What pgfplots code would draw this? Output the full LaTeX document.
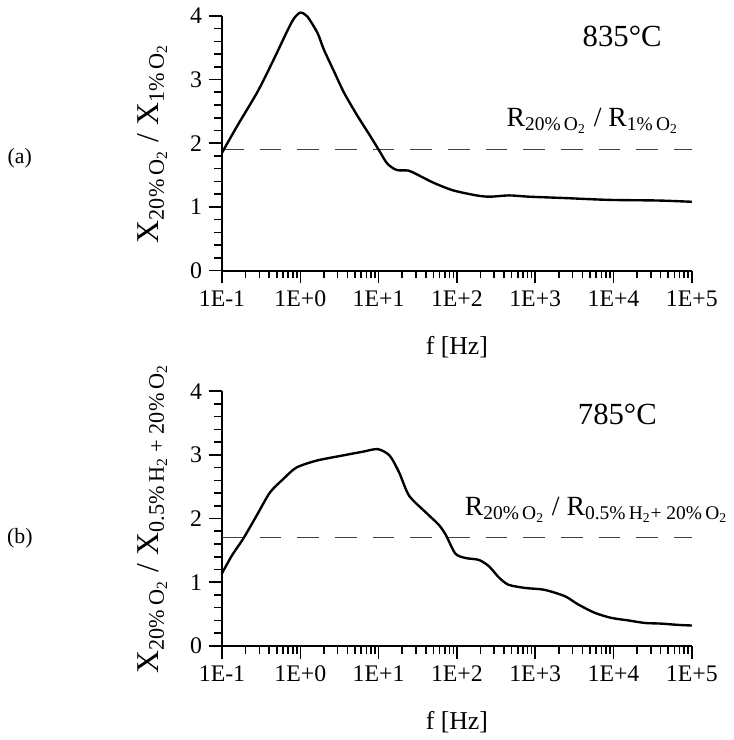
\documentclass[border=0pt]{standalone}
\usepackage{fontspec}
\setmainfont{Liberation Serif}
\usepackage{pgfplots}
\pgfplotsset{compat=1.18}

\begin{document}
\begin{tikzpicture}
\path (0,0) rectangle (370pt,370pt);

\node[font=\fontsize{11}{13}\selectfont] at (10pt,290pt) {(a)};
\node[font=\fontsize{11}{13}\selectfont] at (10pt,98.5pt) {(b)};

% (a) 835 C
\begin{axis}[
  at={(112pt,233.5pt)}, anchor=south west,
  scale only axis, width=237pt, height=128.5pt,
  xmode=log, xmin=0.1, xmax=1e5, ymin=0, ymax=4,
  axis lines=left,
  axis line style={-, line width=1pt},
  tick align=outside,
  every tick/.append style={black, line width=0.8pt},
  major tick length=6.5pt, minor tick length=4pt,
  xtick={0.1,1,10,100,1000,10000,100000},
  xticklabels={1E-1,1E+0,1E+1,1E+2,1E+3,1E+4,1E+5},
  minor xtick={0.2,0.3,0.4,0.5,0.6,0.7,0.8,0.9,2,3,4,5,6,7,8,9,
    20,30,40,50,60,70,80,90,200,300,400,500,600,700,800,900,
    2000,3000,4000,5000,6000,7000,8000,9000,
    20000,30000,40000,50000,60000,70000,80000,90000},
  ytick={0,1,2,3,4}, yticklabels={0,1,2,3,4}, minor y tick num=4,
  tick label style={font=\fontsize{12}{14}\selectfont},
  xlabel={f [Hz]},
  xlabel style={font=\fontsize{13}{15}\selectfont, at={(axis description cs:0.5,-0.33)}, anchor=base},
  ylabel={X\textsubscript{20\%\,O\textsubscript{2}} / X\textsubscript{1\%\,O\textsubscript{2}}},
  ylabel style={font=\fontsize{16}{19}\selectfont, at={(axis description cs:-0.148,0.5)}, anchor=center},
  clip=false,
]
\addplot[black!75, line width=0.7pt, dash pattern=on 11pt off 8pt] coordinates {(0.1,1.9) (100000,1.9)};
\addplot[black, line width=1.2pt, smooth, tension=0.45] coordinates {
  (0.1,1.85) (0.158,2.28) (0.288,2.82) (0.468,3.34) (0.692,3.78) (0.832,3.96)
  (1.0,4.05) (1.23,3.99) (1.66,3.73) (2.0,3.47) (2.69,3.13) (3.63,2.79)
  (5.37,2.43) (7.76,2.12) (10,1.90) (12.9,1.68) (17.0,1.58) (24.0,1.57)
  (30.9,1.51) (50.1,1.38) (89.1,1.26) (178,1.18) (263,1.16) (468,1.18)
  (832,1.16) (2239,1.14) (8710,1.11) (37154,1.10) (100000,1.08)
};
\node[font=\fontsize{15.5}{18}\selectfont, anchor=base] at (axis cs:12900,3.52) {835°C};
\node[font=\fontsize{14}{17}\selectfont, anchor=base west, inner sep=0pt] at (axis cs:427,2.26)
  {R\textsubscript{20\%\,O\textsubscript{2}} / R\textsubscript{1\%\,O\textsubscript{2}}};
\end{axis}

% (b) 785 C
\begin{axis}[
  at={(112pt,44.15pt)}, anchor=south west,
  scale only axis, width=237pt, height=128.5pt,
  xmode=log, xmin=0.1, xmax=1e5, ymin=0, ymax=4,
  axis lines=left,
  axis line style={-, line width=1pt},
  tick align=outside,
  every tick/.append style={black, line width=0.8pt},
  major tick length=6.5pt, minor tick length=4pt,
  xtick={0.1,1,10,100,1000,10000,100000},
  xticklabels={1E-1,1E+0,1E+1,1E+2,1E+3,1E+4,1E+5},
  minor xtick={0.2,0.3,0.4,0.5,0.6,0.7,0.8,0.9,2,3,4,5,6,7,8,9,
    20,30,40,50,60,70,80,90,200,300,400,500,600,700,800,900,
    2000,3000,4000,5000,6000,7000,8000,9000,
    20000,30000,40000,50000,60000,70000,80000,90000},
  ytick={0,1,2,3,4}, yticklabels={0,1,2,3,4}, minor y tick num=4,
  tick label style={font=\fontsize{12}{14}\selectfont},
  xlabel={f [Hz]},
  xlabel style={font=\fontsize{13}{15}\selectfont, at={(axis description cs:0.5,-0.33)}, anchor=base},
  ylabel={X\textsubscript{20\%\,O\textsubscript{2}} / X\textsubscript{0.5\%\,H\textsubscript{2} + 20\%\,O\textsubscript{2}}},
  ylabel style={font=\fontsize{16}{19}\selectfont, at={(axis description cs:-0.148,0.5)}, anchor=center},
  clip=false,
]
\addplot[black!75, line width=0.7pt, dash pattern=on 11pt off 8pt] coordinates {(0.1,1.7) (100000,1.7)};
\addplot[black, line width=1.2pt, smooth, tension=0.45] coordinates {
  (0.1,1.14) (0.134,1.42) (0.188,1.69) (0.278,2.05) (0.41,2.41) (0.605,2.62)
  (0.891,2.80) (1.62,2.91) (3.47,2.99) (6.31,3.05) (9.77,3.09) (13.8,2.99)
  (18.2,2.73) (24.5,2.36) (39.8,2.10) (58.9,1.90) (72.4,1.74) (95.5,1.45)
  (129,1.38) (191,1.35) (257,1.25) (347,1.07) (457,0.96) (741,0.91)
  (1318,0.88) (2399,0.78) (3548,0.65) (5754,0.52) (9333,0.44) (15488,0.40)
  (25119,0.36) (40738,0.35) (66069,0.33) (100000,0.32)
};
\node[font=\fontsize{15.5}{18}\selectfont, anchor=base] at (axis cs:11200,3.47) {785°C};
\node[font=\fontsize{14}{17}\selectfont, anchor=base west, inner sep=0pt] at (axis cs:125,2.05)
  {R\textsubscript{20\%\,O\textsubscript{2}} / R\textsubscript{0.5\%\,H\textsubscript{2}+ 20\%\,O\textsubscript{2}}};
\end{axis}
\end{tikzpicture}
\end{document}
